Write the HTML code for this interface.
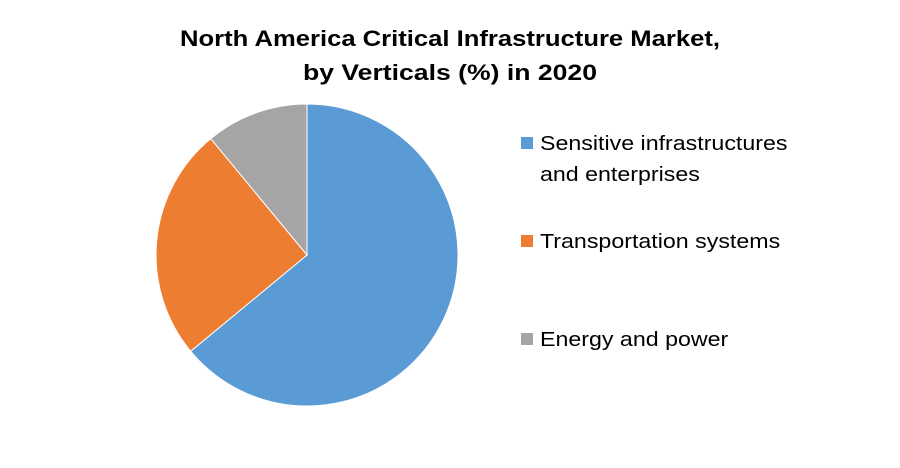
<!DOCTYPE html>
<html><head><meta charset="utf-8"><style>
body{margin:0;background:#fff;width:900px;height:463px;overflow:hidden;font-family:"Liberation Sans",sans-serif}
</style></head><body>
<svg width="900" height="463">
<text x="180" y="46" textLength="540" lengthAdjust="spacingAndGlyphs" font-weight="bold" font-size="22" fill="#000">North America Critical  Infrastructure Market,</text>
<text x="303" y="80" textLength="294" lengthAdjust="spacingAndGlyphs" font-weight="bold" font-size="22" fill="#000">by Verticals (%) in 2020</text>
<g id="pie"></g>
<g id="legend"></g>
</svg>
<script>
const categories=["Sensitive infrastructures|and enterprises","Transportation systems","Energy and power"];
const values=[64,25,11];
const colors=["#5b9bd5","#ed7d31","#a5a5a5"];
const cx=307,cy=255,r=151;
const ns="http://www.w3.org/2000/svg";
const pie=document.getElementById('pie');
const total=values.reduce((a,b)=>a+b,0);
let a0=0;
values.forEach((v,i)=>{
  const a1=a0+v/total*2*Math.PI;
  const x0=cx+r*Math.sin(a0),y0=cy-r*Math.cos(a0),x1=cx+r*Math.sin(a1),y1=cy-r*Math.cos(a1);
  const p=document.createElementNS(ns,'path');
  p.setAttribute('d',`M${cx},${cy}L${x0},${y0}A${r},${r} 0 ${a1-a0>Math.PI?1:0} 1 ${x1},${y1}Z`);
  p.setAttribute('fill',colors[i]);p.setAttribute('stroke','#fff');p.setAttribute('stroke-width','1');
  
  
  pie.appendChild(p);a0=a1;
});
const lg=document.getElementById('legend');
const ly=[143,241,339];
const scale=247/213;
categories.forEach((c,i)=>{
  const g=document.createElementNS(ns,'g');
  
  
  lg.appendChild(g);
  const rc=document.createElementNS(ns,'rect');
  rc.setAttribute('x',521);rc.setAttribute('y',ly[i]-6);rc.setAttribute('width',12);rc.setAttribute('height',12);rc.setAttribute('fill',colors[i]);
  g.appendChild(rc);
  c.split('|').forEach((line,j)=>{
    const t=document.createElementNS(ns,'text');
    t.setAttribute('x',540);t.setAttribute('y',ly[i]+7+j*31);t.setAttribute('font-size','20');t.setAttribute('fill','#000');
    t.textContent=line;g.appendChild(t);
    const w=t.getComputedTextLength();
    if(w>0){t.setAttribute('textLength',w*scale);t.setAttribute('lengthAdjust','spacingAndGlyphs');}
  });
});
</script>
</body></html>
